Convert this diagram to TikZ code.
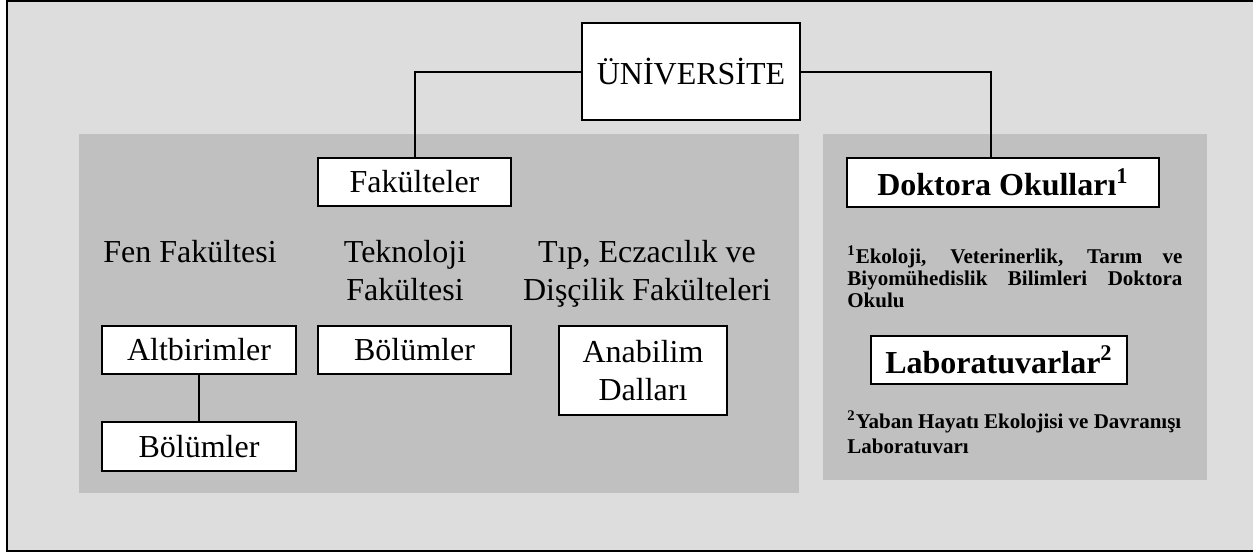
\documentclass[tikz,border=0pt]{standalone}
\usepackage{fontspec}
\setmainfont{Liberation Serif}
\definecolor{outerbg}{HTML}{DDDDDD}
\definecolor{panelbg}{HTML}{C0C0C0}
\begin{document}
\begin{tikzpicture}[x=0.5pt,y=-0.5pt,
  box/.style={draw,line width=1pt,fill=white,inner sep=0pt,font=\fontsize{16}{19}\selectfont,align=center},
  boldbox/.style={box,font=\fontsize{16}{19}\selectfont\bfseries},
  lbl/.style={inner sep=0pt,font=\fontsize{16}{19}\selectfont,align=center},
  note/.style={inner sep=0pt,align=left},
  conn/.style={line width=1pt}]
\useasboundingbox (0,0) rectangle (1253,552);
\fill[outerbg] (7,1) rectangle (1253,551);
\draw[line width=1pt] (1253,1) -- (7,1) -- (7,551) -- (1253,551);
\fill[panelbg] (79,134) rectangle (799,493);
\fill[panelbg] (823,134) rectangle (1207,480);

\node[box,minimum width=109pt,minimum height=48.5pt] (uni) at (691,71.5) {ÜNİVERSİTE};
\node[box,minimum width=96.5pt,minimum height=24pt] (fak) at (414.5,182) {Fakülteler};
\node[boldbox,minimum width=156pt,minimum height=24.5pt] (dok) at (1003,182.5) {Doktora Okulları\textsuperscript{1}};
\node[boldbox,minimum width=128pt,minimum height=24pt] (lab) at (999,360) {Laboratuvarlar\textsuperscript{2}};

\node[lbl,anchor=base west] (fen) at (103,262) {Fen Fakültesi};
\node[lbl,anchor=base] (tek) at (405,300) {Teknoloji\\Fakültesi};
\node[lbl,anchor=base] (tip) at (647,300) {Tıp, Eczacılık ve\\Dişçilik Fakülteleri};

\node[box,minimum width=97pt,minimum height=24pt] (alt) at (199,350) {Altbirimler};
\node[box,minimum width=97pt,minimum height=24.5pt] (bol1) at (199,446.5) {Bölümler};
\node[box,minimum width=96.5pt,minimum height=24pt] (bol2) at (414.5,350) {Bölümler};
\node[box,minimum width=84pt,minimum height=44.5pt] (ana) at (643,370.5) {Anabilim\\Dalları};

\node[note,anchor=base west,font=\fontsize{10.5}{11}\selectfont\bfseries] (fn1) at (847,307)
  {\makebox[167.5pt][s]{\textsuperscript{1}Ekoloji, Veterinerlik, Tarım ve}\\
   \makebox[167.5pt][s]{Biyomühedislik Bilimleri Doktora}\\
   Okulu};
\node[note,anchor=base west,font=\fontsize{10.5}{12.5}\selectfont\bfseries] (fn2) at (847,453)
  {\textsuperscript{2}Yaban Hayatı Ekolojisi ve Davranışı\\Laboratuvarı};

\draw[conn] (uni.west) -| (fak.north);
\draw[conn] (uni.east) -| ([xshift=-6pt]dok.north);
\draw[conn] (alt) -- (bol1);
\end{tikzpicture}
\end{document}
